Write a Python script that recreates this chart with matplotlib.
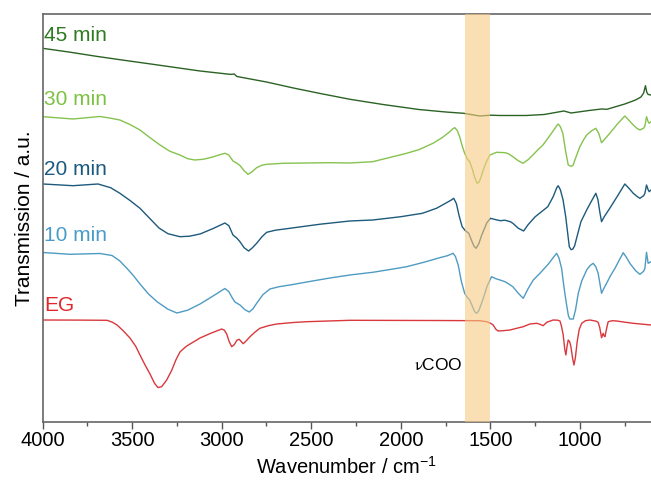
import matplotlib.pyplot as plt
from matplotlib.ticker import MultipleLocator

plt.rcParams['font.family'] = ['Liberation Sans', 'DejaVu Sans']
plt.rcParams['mathtext.fontset'] = 'stix'

# stacked FTIR spectra, wavenumber (cm-1) and offset transmission (a.u.)
wn_45 = [4000, 3850, 3700, 3568, 3400, 3121, 2950, 2930, 2915, 2900, 2750, 2600, 2450, 2284, 2100,
         1900, 1750, 1650, 1560, 1500, 1450, 1300, 1200, 1090, 1050, 950, 880, 850, 750, 690, 660,
         645, 635, 628, 620, 604]
t_45 = [373.4, 369.6, 365.4, 362.0, 357.8, 350.7, 347.3, 347.7, 345.2, 344.7, 339.7, 333.7, 328.2, 322.4, 317.2,
        312.2, 309.7, 308.4, 305.7, 306.5, 306.2, 306.2, 307.2, 310.7, 308.7, 311.2, 312.7, 312.4, 317.7, 321.7, 324.7,
        328.7, 336.0, 329.7, 327.2, 326.7]

wn_30 = [3997, 3830, 3679, 3620, 3568, 3510, 3456, 3400, 3344, 3290, 3233, 3190, 3150, 3100, 3050,
         3010, 2982, 2960, 2937, 2915, 2898, 2875, 2853, 2830, 2805, 2775, 2749, 2658, 2396, 2285,
         2157, 1968, 1900, 1821, 1770, 1727, 1710, 1699, 1685, 1672, 1658, 1644, 1630, 1616, 1600,
         1588, 1574, 1562, 1550, 1540, 1520, 1503, 1466, 1419, 1400, 1375, 1345, 1319, 1290, 1263,
         1235, 1207, 1165, 1130, 1122, 1110, 1096, 1080, 1066, 1052, 1040, 1020, 1001, 980, 963,
         935, 912, 895, 880, 865, 834, 790, 750, 725, 703, 680, 666, 645, 638, 629, 620, 614, 604]
t_30 = [305.0, 302.7, 305.2, 303.5, 301.7, 297.0, 291.7, 284.0, 276.7, 270.5, 266.7, 263.0, 261.7, 262.5, 264.7,
        267.0, 268.4, 266.7, 260.7, 258.5, 256.2, 251.0, 247.4, 250.0, 254.0, 256.5, 257.4, 258.4, 259.0, 258.7,
        260.0, 268.4, 272.0, 278.4, 284.0, 290.0, 293.0, 294.0, 291.0, 285.0, 276.0, 268.4, 263.0, 260.0, 252.0,
        244.0, 238.4, 240.0, 246.0, 251.7, 261.0, 266.7, 269.4, 269.0, 268.0, 265.0, 261.0, 258.4, 262.0, 266.7,
        272.0, 276.7, 287.0, 296.0, 297.7, 295.0, 288.4, 270.0, 256.7, 255.5, 256.0, 266.0, 275.0, 282.0, 286.7,
        291.0, 293.4, 288.0, 279.0, 282.0, 288.4, 298.0, 305.7, 301.0, 296.7, 293.0, 291.7, 293.5, 295.7, 305.0, 300.0, 298.4, 300.0]

wn_20 = [3997, 3830, 3690, 3620, 3568, 3510, 3456, 3400, 3350, 3300, 3233, 3180, 3121, 3050, 2982,
         2960, 2937, 2915, 2898, 2875, 2850, 2828, 2805, 2775, 2749, 2700, 2620, 2450, 2285, 2157,
         2000, 1880, 1800, 1751, 1720, 1705, 1690, 1675, 1658, 1640, 1621, 1605, 1592, 1580, 1565,
         1550, 1537, 1520, 1500, 1470, 1445, 1420, 1389, 1375, 1345, 1315, 1290, 1250, 1215, 1180,
         1150, 1130, 1122, 1110, 1095, 1080, 1070, 1060, 1050, 1040, 1030, 1019, 995, 963, 935,
         912, 900, 890, 880, 865, 834, 790, 750, 725, 703, 680, 666, 645, 638, 629, 620, 614, 604]
t_20 = [237.7, 236.0, 237.7, 234.0, 228.4, 221.0, 213.4, 203.0, 193.7, 188.0, 185.0, 185.5, 187.7, 193.0, 198.7,
        196.0, 186.7, 183.5, 180.0, 174.0, 170.7, 174.0, 178.4, 185.0, 189.4, 191.5, 193.4, 197.5, 200.7, 201.7,
        205.0, 208.4, 213.5, 218.4, 221.5, 223.4, 218.0, 206.0, 195.0, 191.0, 188.4, 181.0, 175.5, 173.4, 178.0,
        186.0, 191.7, 199.0, 203.4, 202.0, 201.0, 201.5, 200.0, 198.4, 193.5, 190.7, 197.0, 205.0, 210.0, 215.0,
        225.0, 234.0, 236.0, 232.0, 222.0, 205.0, 190.0, 175.0, 172.0, 172.7, 176.0, 183.7, 200.0, 211.7, 221.0,
        228.4, 222.0, 210.0, 200.0, 205.0, 213.4, 226.0, 237.7, 233.0, 228.4, 225.0, 223.4, 226.0, 228.4, 236.7, 232.0, 230.0, 231.7]

wn_10 = [3997, 3847, 3679, 3612, 3570, 3529, 3490, 3456, 3410, 3361, 3300, 3250, 3190, 3121, 3050,
         2982, 2960, 2940, 2926, 2898, 2870, 2846, 2825, 2805, 2770, 2731, 2680, 2619, 2500, 2396,
         2285, 2157, 2050, 1968, 1870, 1783, 1740, 1708, 1695, 1680, 1662, 1644, 1630, 1616, 1600,
         1588, 1577, 1565, 1552, 1540, 1520, 1494, 1470, 1447, 1419, 1400, 1375, 1345, 1317, 1290,
         1261, 1224, 1180, 1131, 1118, 1103, 1090, 1075, 1065, 1057, 1038, 1025, 1010, 990, 963,
         945, 927, 912, 899, 890, 880, 868, 852, 830, 805, 780, 759, 740, 722, 690, 666, 645, 638,
         629, 620, 604]
t_10 = [169.2, 167.4, 168.2, 166.2, 161.0, 153.4, 145.5, 137.7, 128.0, 120.0, 112.5, 108.7, 111.5, 117.7, 125.5,
        133.2, 130.0, 123.5, 119.7, 116.7, 112.0, 109.7, 113.0, 118.4, 127.0, 132.7, 135.0, 136.7, 140.5, 143.7,
        146.7, 149.4, 152.5, 155.0, 159.5, 164.0, 166.0, 168.4, 165.0, 156.7, 140.0, 128.4, 124.5, 121.7, 115.0,
        110.0, 108.4, 111.0, 117.5, 123.4, 135.0, 145.0, 143.0, 141.7, 140.0, 138.0, 135.0, 128.5, 123.4, 133.0,
        141.7, 148.4, 157.0, 168.4, 164.0, 153.4, 135.0, 116.7, 106.0, 102.7, 102.7, 112.0, 128.4, 141.0, 151.7,
        156.0, 158.4, 155.0, 148.4, 139.0, 128.4, 133.0, 138.4, 146.0, 153.4, 162.0, 169.0, 164.0, 158.4, 151.0, 147.4, 150.5, 153.4,
        169.4, 158.4, 160.0]

wn_eg = [3997, 3800, 3640, 3610, 3584, 3550, 3512, 3480, 3456, 3430, 3400, 3375, 3356, 3335, 3307,
         3280, 3255, 3233, 3210, 3195, 3160, 3121, 3060, 3000, 2985, 2972, 2958, 2944, 2930, 2915,
         2902, 2890, 2880, 2865, 2842, 2815, 2787, 2740, 2693, 2600, 2526, 2285, 1800, 1560, 1521,
         1500, 1485, 1470, 1457, 1430, 1391, 1354, 1317, 1280, 1242, 1225, 1206, 1185, 1150, 1125,
         1112, 1103, 1094, 1085, 1079, 1072, 1066, 1058, 1051, 1042, 1034, 1026, 1016, 1005, 991,
         970, 945, 910, 899, 890, 880, 875, 871, 866, 861, 852, 843, 820, 796, 750, 703, 650, 604]
t_eg = [101.7, 101.6, 101.4, 99.5, 96.7, 91.0, 83.7, 75.5, 66.7, 57.5, 47.7, 38.5, 34.2, 35.0, 41.7,
        51.0, 62.0, 69.7, 73.5, 75.7, 79.5, 83.7, 88.5, 92.7, 91.5, 87.7, 80.0, 75.0, 77.0, 81.5,
        82.4, 80.0, 78.0, 80.5, 85.0, 89.5, 93.4, 96.0, 97.7, 99.2, 100.0, 101.4, 101.2, 101.0, 100.0,
        98.5, 96.7, 92.5, 90.7, 91.0, 91.7, 93.4, 95.0, 97.7, 98.4, 97.5, 96.0, 99.5, 101.7, 101.5,
        100.7, 95.0, 86.7, 72.0, 66.7, 76.0, 81.7, 80.0, 75.0, 64.0, 56.7, 64.0, 80.0, 92.0, 98.4,
        101.0, 101.7, 100.5, 99.4, 94.0, 84.0, 86.5, 88.4, 86.0, 85.0, 93.0, 100.0, 101.0, 100.7, 99.5, 98.4, 97.5, 96.7]

names = ['45 min', '30 min', '20 min', '10 min', 'EG']
label_y = [385.7, 321.7, 251.7, 185.7, 116.7]
line_colors = ['#2b6324', '#86c24e', '#1d5a7c', '#4f9bc2', '#d9383c']
text_colors = ['#2e7a22', '#7cc242', '#1b5a80', '#4a9cc8', '#e3262b']

fig = plt.figure(figsize=(6.51, 4.84), dpi=100)
ax = fig.add_axes([0.0653, 0.1287, 0.9347, 0.8424])

spectra = [(wn_45, t_45), (wn_30, t_30), (wn_20, t_20), (wn_10, t_10), (wn_eg, t_eg)]
for (wn, t), c in zip(spectra, line_colors):
    ax.plot(wn, t, color=c, lw=1.0, solid_joinstyle='round')

for name, y, c in zip(names, label_y, text_colors):
    ax.text(3990, y, name, color=c, fontsize=15, va='center', ha='left')

# carboxylate stretching region
ax.axvspan(1640, 1500, color='#f8cb84', alpha=0.6, lw=0, zorder=3)
ax.text(1655, 56.7, r'$\mathrm{\nu}$COO', fontsize=12.5, ha='right', va='center')

ax.set_xlim(4000, 604)
ax.set_ylim(0, 407.7)
ax.xaxis.set_major_locator(MultipleLocator(500))
ax.xaxis.set_minor_locator(MultipleLocator(250))
ax.tick_params(axis='x', which='major', length=5, width=1, labelsize=14.5, pad=2, color='#555555')
ax.tick_params(axis='x', which='minor', length=3, width=1, color='#555555')
ax.set_yticks([])
for s in ['left', 'bottom', 'top']:
    ax.spines[s].set_color('#666666')
    ax.spines[s].set_linewidth(1.2)
ax.spines['right'].set_visible(False)

ax.set_xlabel(r'Wavenumber / cm$^{\mathregular{-1}}$', fontsize=14.5, labelpad=4)
ax.set_ylabel('Transmission / a.u.', fontsize=15, labelpad=6)

fig.savefig('out.png', dpi=100)
